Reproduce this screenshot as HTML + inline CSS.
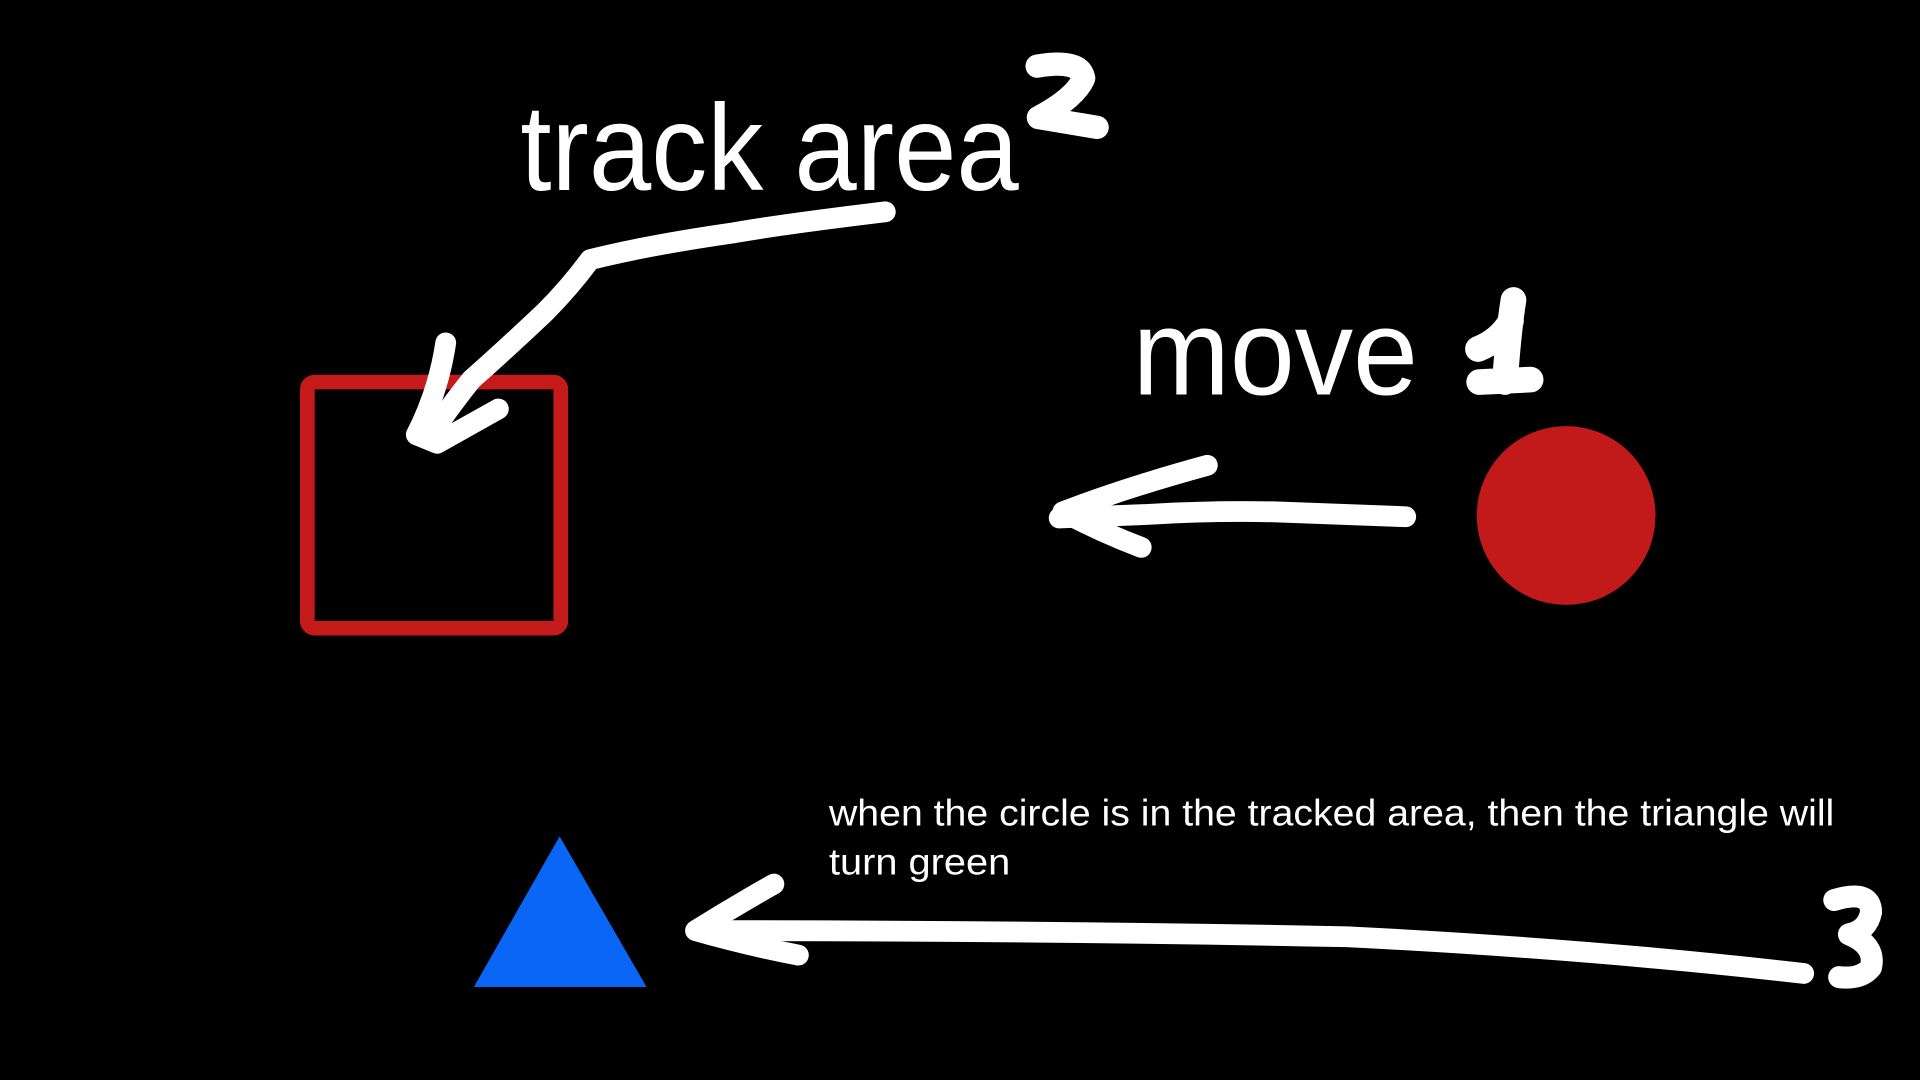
<!DOCTYPE html>
<html><head><meta charset="utf-8"><style>
html,body{margin:0;padding:0;background:#000;width:1920px;height:1080px;overflow:hidden}
svg{display:block}
</style></head><body>
<svg width="1920" height="1080" viewBox="0 0 1568 882" xmlns="http://www.w3.org/2000/svg">
<rect width="1568" height="882" fill="#000"/>
<g font-family="Liberation Sans, sans-serif" fill="#fff">
<text x="425" y="155" font-size="100" textLength="407" lengthAdjust="spacingAndGlyphs">track area</text>
<text x="925" y="322" font-size="100" textLength="233" lengthAdjust="spacingAndGlyphs">move</text>
<text x="677" y="674" font-size="30" textLength="821" lengthAdjust="spacingAndGlyphs">when the circle is in the tracked area, then the triangle will</text>
<text x="677" y="714" font-size="30" textLength="148" lengthAdjust="spacingAndGlyphs">turn green</text>
</g>
<rect x="251" y="312" width="207" height="201" rx="6" fill="none" stroke="#c41a1a" stroke-width="12"/>
<circle cx="1279" cy="421" r="73" fill="#c21a1a"/>
<polygon points="457,683 387,806 528,806" fill="#0a66f5"/>
<g fill="none" stroke="#fff" stroke-linecap="round" stroke-linejoin="round">
<path d="M723,173 Q640,183 600,190 Q530,200 482,212 Q465,235 445,255 Q410,288 385,310 Q365,335 350,358" stroke-width="17"/>
<path d="M364,280 Q358,320 340,355 L357,362 L407,334" stroke-width="17"/>
<path d="M1148,422 Q1100,420 1040,418 Q990,417 940,420 L865,423" stroke-width="17"/>
<path d="M986,380 Q920,398 868,418 Q900,435 932,447" stroke-width="17"/>
<path d="M1473,795 Q1300,775 1100,765 Q850,760 570,760" stroke-width="17"/>
<path d="M632,722 Q600,740 568,760 Q610,772 652,780" stroke-width="17"/>
<path d="M847,54 Q882,48 885,64 Q878,80 848,96 L896,104" stroke-width="19"/>
<path d="M1236,245 Q1232,270 1229,312 M1207,285 Q1225,278 1234,262 M1208,312 L1250,310" stroke-width="21"/>
<path d="M1498,735 Q1528,726 1528,745 Q1525,760 1510,763 Q1532,772 1528,790 Q1520,800 1502,798" stroke-width="18"/>
</g>
</svg>
</body></html>
